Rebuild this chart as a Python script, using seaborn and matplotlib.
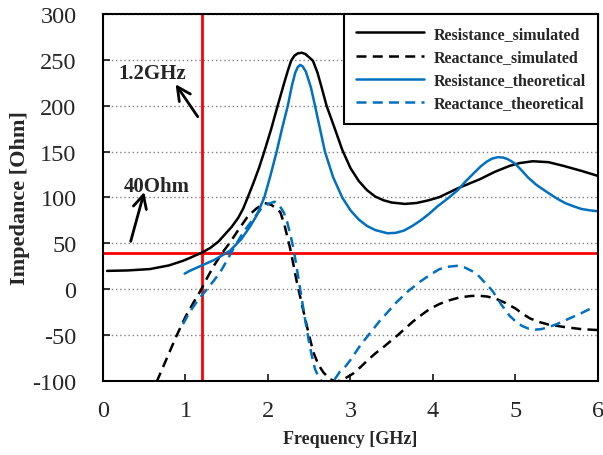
import matplotlib
matplotlib.use("Agg")
import matplotlib.pyplot as plt
import seaborn as sns

# values
freq_res_sim = [0.05, 0.3, 0.57, 0.8, 0.97, 1.05, 1.2, 1.3, 1.4, 1.48, 1.56, 1.64, 1.7, 1.754,
                1.82, 1.89, 1.955, 2.04, 2.117, 2.2, 2.24, 2.28, 2.32, 2.36, 2.408, 2.45, 2.49,
                2.545, 2.6, 2.65, 2.71, 2.81, 2.9, 3.0, 3.1, 3.2, 3.3, 3.4, 3.5, 3.66, 3.8,
                3.95, 4.08, 4.3, 4.57, 4.75, 4.93, 5.05, 5.21, 5.4, 5.58, 5.8, 6.0]
res_sim = [20, 20.5, 22, 26, 31, 34, 40, 45, 52, 60, 68, 78, 88, 100,
           115, 132, 150, 175, 200, 226, 238, 249, 254.5, 257, 257.8, 256.5, 253.5,
           249, 236, 220, 200, 175, 152, 132, 118, 108, 101, 97, 94.5, 93, 94,
           97, 100.5, 110, 120, 128, 134.5, 137.5, 139.5, 138.5, 134.5, 129, 123.5]

freq_res_th = [0.99, 1.05, 1.2, 1.35, 1.54, 1.68, 1.78, 1.86, 1.955, 2.03, 2.105, 2.17, 2.24,
               2.29, 2.33, 2.36, 2.39, 2.42, 2.46, 2.52, 2.57, 2.63, 2.69, 2.79, 2.9, 3.0, 3.1,
               3.2, 3.3, 3.45, 3.55, 3.65, 3.75, 3.85, 3.95, 4.05, 4.18, 4.3, 4.4, 4.5, 4.58,
               4.65, 4.72, 4.79, 4.85, 4.9, 4.95, 5.0, 5.08, 5.15, 5.25, 5.38, 5.5, 5.6, 5.7,
               5.8, 5.9, 6.0]
res_th = [17, 20, 26, 32, 42, 55, 68, 80, 100, 124, 150, 175, 200,
          222, 236, 242, 244.5, 243, 237, 220, 200, 175, 150, 122, 100, 86, 76,
          69, 64.5, 61, 61.5, 64, 69, 75, 82, 90, 99, 108, 118, 127, 134,
          139, 142.5, 144, 143.5, 142, 139.5, 136.5, 129, 122, 114, 106, 99, 94, 90.5,
          87.5, 86, 85]

freq_rea_sim = [0.65, 0.77, 0.89, 1.0, 1.1, 1.18, 1.26, 1.34, 1.44, 1.54, 1.65, 1.76, 1.86,
                1.96, 2.04, 2.1, 2.15, 2.2, 2.24, 2.27, 2.31, 2.35, 2.4, 2.45, 2.5, 2.55, 2.61,
                2.67, 2.75, 2.83, 2.92, 3.03, 3.12, 3.2, 3.3, 3.4, 3.56, 3.66, 3.76, 3.86, 3.96,
                4.08, 4.2, 4.32, 4.45, 4.55, 4.66, 4.77, 4.88, 5.0, 5.09, 5.18, 5.3, 5.4, 5.58,
                5.8, 6.0]
rea_sim = [-101, -76, -51, -30, -14, -2, 12, 25, 39, 51, 66, 80, 88,
           94, 92, 88, 84, 70, 55, 44, 26, 7.5, -12, -32, -51, -68.7, -82,
           -90.5, -98, -100.7, -98, -92, -85, -78, -70, -63, -51, -43, -35, -28, -21.5,
           -16, -12, -9, -7.4, -7, -8, -10.6, -15, -21, -27, -32, -36, -38.5, -41,
           -43.5, -44.5]

freq_rea_th = [0.97, 1.05, 1.15, 1.26, 1.34, 1.42, 1.5, 1.58, 1.7, 1.82, 1.92, 2.0, 2.08,
               2.14, 2.19, 2.23, 2.27, 2.31, 2.36, 2.41, 2.45, 2.49, 2.53, 2.57, 2.61, 2.65,
               2.72, 2.81, 2.87, 2.94, 3.0, 3.06, 3.12, 3.2, 3.28, 3.35, 3.42, 3.49, 3.56,
               3.63, 3.7, 3.77, 3.84, 3.96, 4.08, 4.18, 4.29, 4.39, 4.49, 4.56, 4.62, 4.68,
               4.73, 4.78, 4.83, 4.88, 4.93, 5.0, 5.08, 5.16, 5.24, 5.31, 5.38, 5.44, 5.5,
               5.6, 5.7, 5.8, 5.9]
rea_th = [-38, -25, -12, 0, 9, 18.5, 31, 44, 62, 76.5, 88, 93, 95.4,
          91, 84, 74, 60, 44, 17, -11, -33, -54, -72, -87, -95, -100,
          -103, -98, -90, -84, -77, -69, -61, -52, -43, -35, -28, -21, -14,
          -8, -2, 3, 8, 15.5, 22, 24.5, 25.5, 23.5, 19, 14, 8, 2.5,
          -3, -10, -17, -23, -29, -35, -40, -43, -44, -43.5, -42, -40, -38,
          -34, -30, -26, -21.5]

xticks = [0, 1, 2, 3, 4, 5, 6]
yticks = [-100, -50, 0, 50, 100, 150, 200, 250, 300]
marker_freq = 1.2
marker_ohm = 40

sns.set_style("ticks")
plt.rcParams['font.family'] = ['Liberation Serif', 'DejaVu Serif']
plt.rcParams['axes.unicode_minus'] = False

fig = plt.figure(figsize=(6.03, 4.56), dpi=100)
ax = fig.add_axes([0.1708, 0.1623, 0.8209, 0.8048])

blue = '#0070C0'
lw = 1.8
dash = (0, (4, 2.5))
sns.lineplot(x=freq_res_sim, y=res_sim, color='black', linewidth=lw, label='Resistance_simulated', ax=ax)
sns.lineplot(x=freq_rea_sim, y=rea_sim, color='black', linewidth=lw, linestyle=dash,
             label='Reactance_simulated', ax=ax)
sns.lineplot(x=freq_res_th, y=res_th, color=blue, linewidth=lw, label='Resistance_theoretical', ax=ax)
sns.lineplot(x=freq_rea_th, y=rea_th, color=blue, linewidth=lw, linestyle=dash,
             label='Reactance_theoretical', ax=ax)

# red marker lines
ax.axvline(marker_freq, color='red', linewidth=2, zorder=1)
ax.axhline(marker_ohm, color='red', linewidth=2, zorder=1)

ax.set_xlim(0, 6)
ax.set_ylim(-100, 300)
ax.set_xticks(xticks)
ax.set_yticks(yticks)
ax.yaxis.grid(True, linestyle=(0, (1, 2)), color='gray', linewidth=1)
ax.xaxis.grid(False)
ax.tick_params(direction='in', length=5, width=1.3, labelsize=17.5)
ax.tick_params(axis='x', pad=14)
ax.tick_params(axis='y', pad=19)
for s in ax.spines.values():
    s.set_visible(True)
    s.set_linewidth(1.5)
    s.set_color('black')

ax.set_xlabel('Frequency [GHz]', fontsize=13, fontweight='bold', labelpad=6)
ax.set_ylabel('Impedance [Ohm]', fontsize=16, fontweight='bold', labelpad=2)

# annotations
ax.annotate('', xy=(0.861, 226), xytext=(1.167, 185.6),
            arrowprops=dict(arrowstyle='->', color='black', lw=2, mutation_scale=24))
ax.text(0.594, 235.7, '1.2GHz', fontsize=15, fontweight='bold', ha='center', va='center')
ax.annotate('', xy=(0.509, 109), xytext=(0.327, 49.3),
            arrowprops=dict(arrowstyle='->', color='black', lw=2, mutation_scale=24))
ax.text(0.655, 112, '40Ohm', fontsize=15, fontweight='bold', ha='center', va='center')

leg = ax.legend(loc='upper right', borderaxespad=0, fancybox=False, edgecolor='black',
                framealpha=1, handlelength=4.3, handletextpad=0.6, labelspacing=0.45,
                borderpad=0.75, prop={'weight': 'bold', 'size': 11.5})
leg.get_frame().set_linewidth(1.5)

fig.savefig('out.png', dpi=100)
